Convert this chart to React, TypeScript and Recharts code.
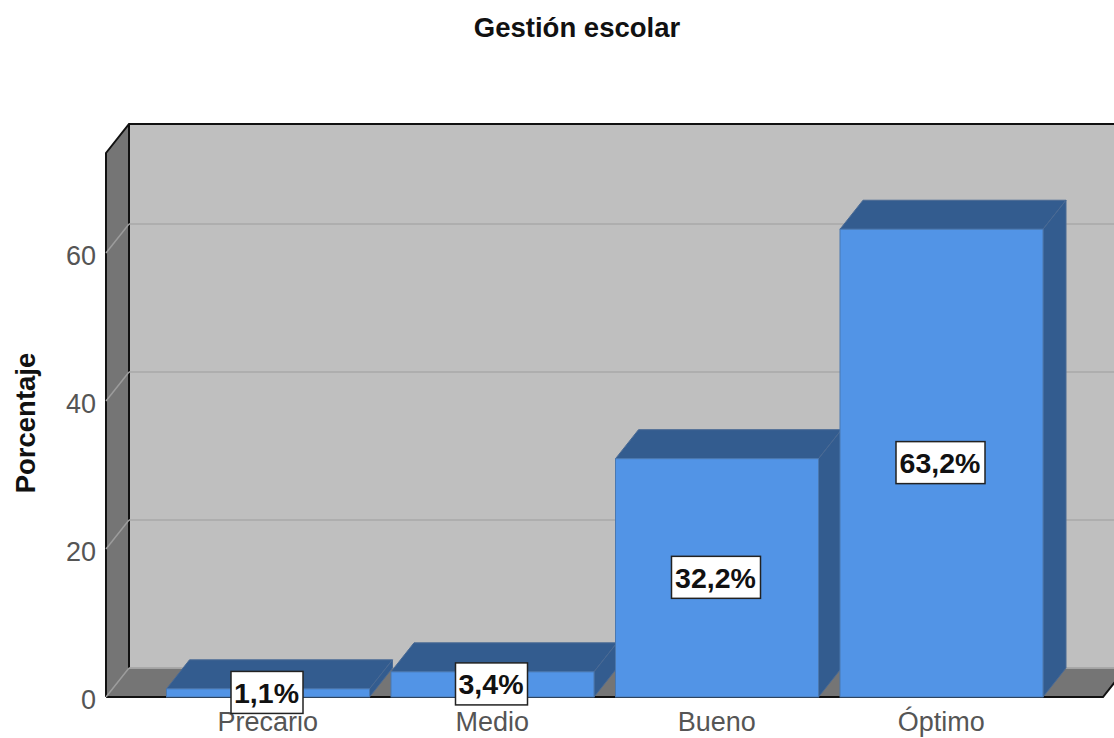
import { Bar, BarChart, CartesianGrid, LabelList, XAxis, YAxis } from 'recharts';

const categories = ['Precario', 'Medio', 'Bueno', 'Óptimo'];
const percentages = [1.1, 3.4, 32.2, 63.2];
const percentLabels = ['1,1%', '3,4%', '32,2%', '63,2%'];
const yTicks = [0, 20, 40, 60];

const chartData = categories.map((name, i) => ({
  name,
  value: percentages[i],
  label: percentLabels[i],
}));

const FONT = '"Liberation Sans", Arial, sans-serif';
const DX = 23;
const DY = 29;

// the grey box behind the bars: left wall, back wall, floor
function Walls() {
  return (
    <svg width={1114} height={738} style={{ position: 'absolute', left: 0, top: 0 }}>
      <rect x={129} y={124} width={1000} height={544} fill="#bfbfbf" />
      <polygon points="106,153 129,124 129,668 106,697" fill="#757575" />
      <polygon points="106,697 1103,697 1126,668 129,668" fill="#757575" />
      <path d="M129,668 L1126,668" stroke="#a0a0a0" strokeWidth={1.5} fill="none" />
      <path d="M106,697 L106,153 L129,124 L1130,124" stroke="#111" strokeWidth={2} fill="none" />
      <path d="M129,124 L129,668" stroke="#111" strokeWidth={2} fill="none" />
      <path d="M106,697 L1103,697 L1126,668" stroke="#111" strokeWidth={2} fill="none" />
    </svg>
  );
}

// grid line runs across the side wall and then along the back wall
function GridLine(props: any) {
  const { x1, y1, x2, y2 } = props;
  return (
    <g key={props.key ?? y1}>
      <line x1={x1} y1={y1} x2={x1 + DX} y2={y1 - DY} stroke="#9c9c9c" strokeWidth={1.5} />
      <line x1={x1 + DX} y1={y1 - DY} x2={x2 + DX} y2={y2 - DY} stroke="#a8a8a8" strokeWidth={1.5} />
    </g>
  );
}

function Bar3D(props: any) {
  const { x, y, width, height } = props;
  const right = x + width;
  const bottom = y + height;
  return (
    <g>
      <polygon
        points={`${x},${y} ${x + DX},${y - DY} ${right + DX},${y - DY} ${right},${y}`}
        fill="#335c8f"
        stroke="#4a6a94"
      />
      <polygon
        points={`${right},${y} ${right + DX},${y - DY} ${right + DX},${bottom - DY} ${right},${bottom}`}
        fill="#335c8f"
        stroke="#4a6a94"
      />
      <rect x={x} y={y} width={width} height={height} fill="#5294e6" stroke="#4a78b0" />
    </g>
  );
}

function BoxLabel(props: any) {
  const { x, y, width, height, value } = props;
  const cx = x + width / 2;
  const cy = y + height / 2;
  const w = String(value).length > 4 ? 89 : 72;
  return (
    <g>
      <rect x={cx - 1 - w / 2} y={cy - 21.5} width={w} height={42} fill="#fff" stroke="#222" strokeWidth={1.5} />
      <text x={cx - 1.5} y={cy + 10} textAnchor="middle" fontFamily={FONT} fontWeight={700} fontSize={28.5} fill="#111">
        {value}
      </text>
    </g>
  );
}

export default function App() {
  return (
    <div style={{ position: 'absolute', left: 0, top: 0, width: 1114, height: 738, overflow: 'hidden', background: '#fff' }}>
      <Walls />
      <div style={{ position: 'absolute', left: 0, top: 0 }}>
        <BarChart
          width={1114}
          height={738}
          data={chartData}
          margin={{ top: 153, right: 11, bottom: 0, left: 0 }}
          barSize={203}
        >
          <CartesianGrid vertical={false} horizontal={GridLine} syncWithTicks />
          <XAxis
            dataKey="name"
            height={41}
            axisLine={false}
            tickLine={false}
            interval={0}
            padding={{ left: 49.5, right: 49.5 }}
            tick={{ fontFamily: FONT, fontSize: 27, fill: '#555' }}
            tickMargin={9}
          />
          <YAxis
            width={106}
            domain={[0, 73.5]}
            ticks={yTicks}
            axisLine={false}
            tickLine={false}
            tick={{ fontFamily: FONT, fontSize: 27, fill: '#555', dy: 2 }}
            tickMargin={4}
            label={{
              value: 'Porcentaje',
              angle: -90,
              position: 'insideLeft',
              offset: 0,
              dx: 25,
              dy: -2,
              style: { fontFamily: FONT, fontSize: 27.5, fontWeight: 700, fill: '#111', textAnchor: 'middle' },
            }}
          />
          <Bar dataKey="value" shape={Bar3D} isAnimationActive={false}>
            <LabelList dataKey="label" content={BoxLabel} />
          </Bar>
          <text x={577} y={37} textAnchor="middle" fontFamily={FONT} fontSize={27.5} fontWeight={700} fill="#111">
            Gestión escolar
          </text>
        </BarChart>
      </div>
    </div>
  );
}
